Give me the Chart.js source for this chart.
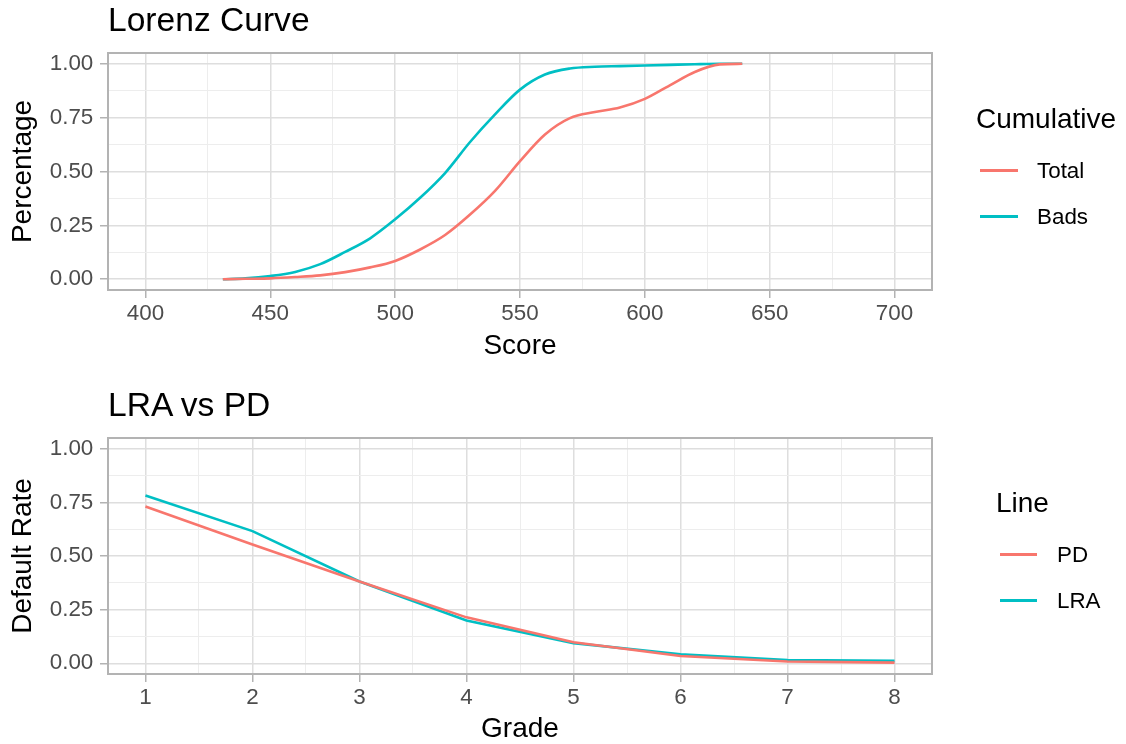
<!DOCTYPE html>
<html>
<head>
<meta charset="utf-8">
<script src="https://cdn.jsdelivr.net/npm/chart.js@4.4.1/dist/chart.umd.min.js"></script>
<style>
body { margin:0; width:1126px; height:744px; overflow:hidden; background:#fff; position:relative; font-family:"Liberation Sans", Arial, sans-serif; }
canvas { position:absolute; left:0; }
.t { position:absolute; line-height:1; white-space:nowrap; color:#000; }
.key { position:absolute; height:3px; }
</style>
</head>
<body>
<canvas id="lorenz" width="1126" height="372" style="top:0"></canvas>
<canvas id="lra" width="1126" height="372" style="top:374px"></canvas>

<div class="t" style="left:108px;top:2.5px;font-size:33.6px">Lorenz Curve</div>
<div class="t" style="left:976px;top:104.6px;font-size:28px">Cumulative</div>
<div class="key" style="left:980px;top:168.5px;width:38px;background:#F8766D"></div>
<div class="t" style="left:1037px;top:160px;font-size:22.4px">Total</div>
<div class="key" style="left:980px;top:214.5px;width:38px;background:#00BFC4"></div>
<div class="t" style="left:1037px;top:206px;font-size:22.4px">Bads</div>

<div class="t" style="left:108px;top:387.6px;font-size:33.6px">LRA vs PD</div>
<div class="t" style="left:996px;top:489px;font-size:28px">Line</div>
<div class="key" style="left:1000px;top:552.5px;width:37px;background:#F8766D"></div>
<div class="t" style="left:1057px;top:543.5px;font-size:22.4px">PD</div>
<div class="key" style="left:1000px;top:598.5px;width:37px;background:#00BFC4"></div>
<div class="t" style="left:1057px;top:589.5px;font-size:22.4px">LRA</div>

<script>
// Lorenz curve data
const scores   = [431, 440, 450, 460, 470, 480, 490, 500, 510, 520, 530, 540, 550, 560, 570, 580, 590, 600, 610, 620, 630, 639];
const totalCum = [0, 0.002, 0.004, 0.01, 0.018, 0.033, 0.055, 0.085, 0.138, 0.205, 0.3, 0.41, 0.548, 0.672, 0.748, 0.776, 0.797, 0.837, 0.9, 0.962, 0.997, 1.0];
const badsCum  = [0, 0.004, 0.015, 0.034, 0.07, 0.127, 0.19, 0.278, 0.378, 0.493, 0.637, 0.765, 0.88, 0.95, 0.978, 0.986, 0.989, 0.992, 0.995, 0.998, 1.0, 1.0];

// LRA vs PD data
const grades = [1, 2, 3, 4, 5, 6, 7, 8];
const pd  = [0.731, 0.554, 0.381, 0.214, 0.098, 0.034, 0.008, 0.003];
const lra = [0.782, 0.616, 0.381, 0.199, 0.094, 0.042, 0.015, 0.011];

// tick labels
const scoreTicks = [400, 450, 500, 550, 600, 650, 700];
const gradeTicks = [1, 2, 3, 4, 5, 6, 7, 8];
const rateTicks  = [0, 0.25, 0.5, 0.75, 1];

const RED = '#F8766D', TEAL = '#00BFC4';
const FONT = '"Liberation Sans", Arial, sans-serif';
Chart.defaults.font.family = FONT;

// major ticks plus a minor one half way between each pair
function withMinor(major) {
  const out = [];
  major.forEach((v, i) => {
    out.push({ value: v, minor: false });
    if (i < major.length - 1) out.push({ value: (v + major[i + 1]) / 2, minor: true });
  });
  return out;
}

const panelBorder = {
  id: 'panelBorder',
  afterDatasetsDraw(chart) {
    const { ctx, chartArea: a } = chart;
    ctx.save();
    ctx.strokeStyle = '#B3B3B3';
    ctx.lineWidth = 2;
    ctx.strokeRect(a.left, a.top, a.right - a.left, a.bottom - a.top);
    ctx.restore();
  }
};

function gridOpts() {
  return {
    color: c => (c.tick && c.tick.minor) ? '#EDEDED' : '#DEDEDE',
    lineWidth: c => (c.tick && c.tick.minor) ? 1 : 1.5,
    tickColor: c => (c.tick && c.tick.minor) ? 'rgba(0,0,0,0)' : '#B3B3B3',
    tickWidth: 1.5,
    tickLength: 8,
    drawTicks: true
  };
}

function xAxis(min, max, major, title, axisH) {
  return {
    type: 'linear', min: min, max: max,
    afterBuildTicks: s => { s.ticks = withMinor(major); },
    afterFit: s => { s.height = axisH; },
    border: { display: false },
    grid: gridOpts(),
    ticks: {
      autoSkip: false, maxRotation: 0, padding: 2,
      color: '#4D4D4D', font: { size: 22.4 },
      callback: (v, i, t) => t[i].minor ? '' : String(v)
    },
    title: { display: true, text: title, color: '#000', font: { size: 28 }, padding: { top: 0, bottom: axisH === 82 ? 9.2 : 0 } }
  };
}

function yAxis(title) {
  return {
    type: 'linear', min: -0.05, max: 1.05,
    afterBuildTicks: s => { s.ticks = withMinor(rateTicks); },
    afterFit: s => { s.width = 108; },
    border: { display: false },
    grid: gridOpts(),
    ticks: {
      autoSkip: false, padding: 6.7,
      color: '#4D4D4D', font: { size: 22.4 },
      callback: (v, i, t) => t[i].minor ? '' : v.toFixed(2)
    },
    title: { display: true, text: title, color: '#000', font: { size: 28 }, padding: { top: 6.7, bottom: 0 } }
  };
}

function lineSet(label, xs, ys, color, smooth) {
  return {
    label: label,
    data: xs.map((x, i) => ({ x: x, y: ys[i] })),
    borderColor: color,
    backgroundColor: color,
    borderWidth: 2.6,
    pointRadius: 0,
    fill: false,
    cubicInterpolationMode: smooth ? 'monotone' : 'default',
    tension: 0
  };
}

const common = {
  responsive: false,
  animation: false,
  events: [],
  plugins: { legend: { display: false }, tooltip: { enabled: false }, title: { display: false } }
};

const lorenzChart = new Chart(document.getElementById('lorenz'), {
  type: 'line',
  data: {
    datasets: [
      lineSet('Total', scores, totalCum, RED, true),
      lineSet('Bads', scores, badsCum, TEAL, true)
    ]
  },
  options: Object.assign({}, common, {
    layout: { padding: { left: 0, top: 53, right: 194, bottom: 0 } },
    scales: {
      x: xAxis(385, 715, scoreTicks, 'Score', 82),
      y: yAxis('Percentage')
    }
  }),
  plugins: [panelBorder]
});

const lraChart = new Chart(document.getElementById('lra'), {
  type: 'line',
  data: {
    datasets: [
      lineSet('PD', grades, pd, RED, false),
      lineSet('LRA', grades, lra, TEAL, false)
    ]
  },
  options: Object.assign({}, common, {
    layout: { padding: { left: 0, top: 64, right: 194, bottom: 0 } },
    scales: {
      x: xAxis(0.65, 8.35, gradeTicks, 'Grade', 72),
      y: yAxis('Default Rate')
    }
  }),
  plugins: [panelBorder]
});
</script>
</body>
</html>
